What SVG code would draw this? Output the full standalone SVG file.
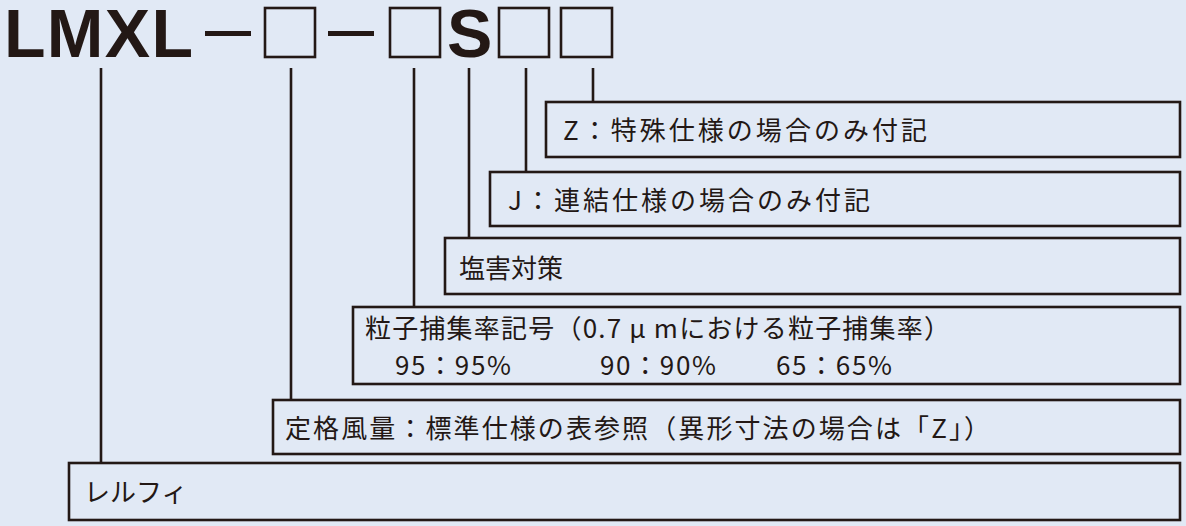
<svg xmlns="http://www.w3.org/2000/svg" width="1186" height="526" viewBox="0 0 1186 526">
<style>
.t{font-family:"Noto Sans CJK JP","Liberation Sans",sans-serif;font-size:26px;fill:#231815}
.b{fill:none;stroke:#231815;stroke-width:2.6}
.h{font-family:"Liberation Sans",Arial,sans-serif;font-weight:bold;font-size:68px;fill:#231815}
</style>
<rect width="1186" height="526" fill="#e1e9f5"/>
<g id="title">
<text class="h" x="4" y="57" textLength="189">LMXL</text>
<rect x="205" y="31" width="46" height="5" fill="#231815"/>
<rect class="b" x="265" y="8" width="50" height="49"/>
<rect x="328" y="31" width="46" height="5" fill="#231815"/>
<rect class="b" x="390" y="8" width="50" height="49"/>
<text class="h" x="447" y="57">S</text>
<rect class="b" x="499" y="8" width="50" height="49"/>
<rect class="b" x="561" y="8" width="51" height="49"/>
</g>
<g id="connectors" class="b">
<path d="M101 68V463M291 68V400M414 68V307M469 68V238M526 68V172M593 68V102"/>
</g>
<g id="z"><rect class="b" x="546" y="102" width="634" height="55"/><text class="t" x="563" y="140" textLength="364">Z：特殊仕様の場合のみ付記</text></g>
<g id="j"><rect class="b" x="490" y="172" width="690" height="54"/><text class="t" x="508" y="210" textLength="362">J：連結仕様の場合のみ付記</text></g>
<g id="s"><rect class="b" x="445" y="238" width="735" height="56"/><text class="t" x="459" y="278">塩害対策</text></g>
<g id="p"><rect class="b" x="353" y="307" width="827" height="77"/>
<text class="t" x="365" y="338" textLength="585">粒子捕集率記号（0.7 μ mにおける粒子捕集率）</text>
<text class="t" x="395" y="375" textLength="116">95：95%</text><text class="t" x="600" y="375" textLength="116">90：90%</text><text class="t" x="776" y="375" textLength="116">65：65%</text></g>
<g id="f"><rect class="b" x="273" y="400" width="907" height="54"/><text class="t" x="285" y="438" textLength="705">定格風量：標準仕様の表参照（異形寸法の場合は「Z」）</text></g>
<g id="r"><rect class="b" x="69" y="463" width="1111" height="57"/><text class="t" x="84" y="502">レルフィ</text></g>
</svg>
